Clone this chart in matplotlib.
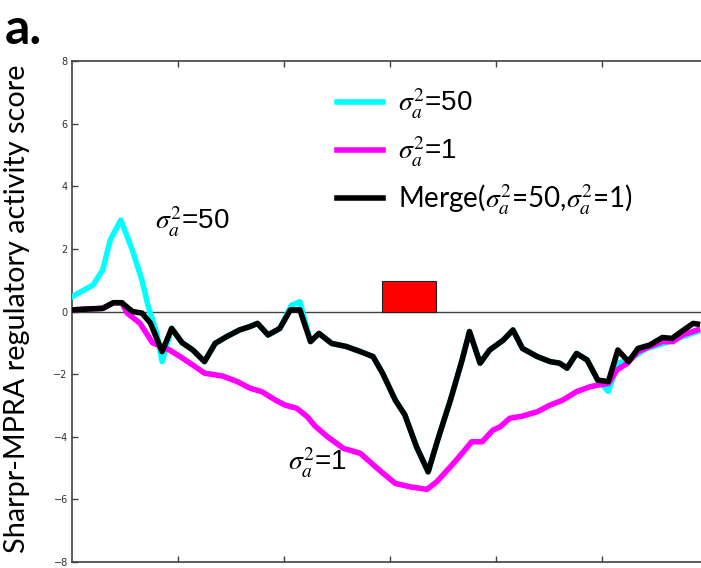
import matplotlib
matplotlib.use('Agg')
import matplotlib.pyplot as plt

# data (x in tick units, 0..6)
x_black = [0.0, 0.15, 0.29, 0.39, 0.47, 0.57, 0.66, 0.74, 0.85, 0.94, 1.04, 1.14, 1.25, 1.35,
           1.46, 1.58, 1.68, 1.75, 1.85, 1.96, 2.06, 2.15, 2.25, 2.33, 2.45, 2.59, 2.72, 2.84,
           2.93, 3.05, 3.14, 3.25, 3.36, 3.45, 3.57, 3.68, 3.75, 3.85, 3.94, 4.07, 4.16, 4.25,
           4.39, 4.51, 4.60, 4.67, 4.76, 4.86, 4.96, 5.06, 5.15, 5.25, 5.34, 5.45, 5.57, 5.66,
           5.75, 5.86, 5.90]
y_black = [0.05, 0.08, 0.10, 0.28, 0.28, 0.0, -0.05, -0.37, -1.28, -0.54, -1.0, -1.23, -1.6, -1.02,
           -0.8, -0.59, -0.48, -0.38, -0.75, -0.54, 0.05, 0.05, -0.96, -0.7, -1.02, -1.12, -1.28, -1.44,
           -1.97, -2.83, -3.3, -4.32, -5.12, -4.1, -2.83, -1.55, -0.64, -1.65, -1.23, -0.91, -0.59, -1.18,
           -1.44, -1.6, -1.65, -1.81, -1.34, -1.55, -2.19, -2.24, -1.23, -1.6, -1.18, -1.07, -0.83, -0.86,
           -0.64, -0.38, -0.40]

x_magenta = [0.0, 0.15, 0.29, 0.39, 0.47, 0.52, 0.64, 0.76, 0.92, 1.02, 1.14, 1.25, 1.42, 1.56,
             1.68, 1.79, 1.92, 2.01, 2.12, 2.22, 2.29, 2.41, 2.56, 2.72, 2.88, 3.05, 3.19, 3.35,
             3.44, 3.57, 3.68, 3.77, 3.87, 3.97, 4.04, 4.13, 4.25, 4.39, 4.51, 4.63, 4.76, 4.89,
             4.96, 5.06, 5.14, 5.24, 5.34, 5.45, 5.57, 5.67, 5.76, 5.90]
y_magenta = [0.05, 0.08, 0.10, 0.28, 0.28, -0.05, -0.37, -1.0, -1.23, -1.44, -1.71, -1.97, -2.06, -2.24,
             -2.45, -2.56, -2.83, -2.99, -3.09, -3.36, -3.65, -4.0, -4.37, -4.53, -5.01, -5.49, -5.6, -5.68,
             -5.44, -4.96, -4.53, -4.16, -4.16, -3.79, -3.68, -3.41, -3.34, -3.2, -2.99, -2.83, -2.56, -2.4,
             -2.35, -2.3, -1.87, -1.65, -1.28, -1.12, -0.96, -0.96, -0.75, -0.59]

x_cyan = [0.0, 0.2, 0.29, 0.36, 0.46, 0.57, 0.66, 0.72, 0.80, 0.85, 0.94, 1.04, 1.14, 1.25, 1.35,
          1.46, 1.58, 1.68, 1.75, 1.85, 1.96, 2.07, 2.15, 2.25, 2.33, 2.45, 2.59, 2.72, 2.84,
          2.93, 3.05, 3.14, 3.25, 3.36, 3.45, 3.57, 3.68, 3.75, 3.85, 3.94, 4.07, 4.16, 4.25,
          4.39, 4.51, 4.60, 4.67, 4.76, 4.86, 4.96, 5.06, 5.15, 5.25, 5.42, 5.64, 5.76, 5.90]
y_cyan = [0.47, 0.85, 1.33, 2.28, 2.92, 1.96, 1.0, 0.15, -0.69, -1.6, -0.54, -1.0, -1.23, -1.6, -1.02,
          -0.8, -0.59, -0.48, -0.38, -0.75, -0.54, 0.2, 0.31, -0.96, -0.7, -1.02, -1.12, -1.28, -1.44,
          -1.97, -2.83, -3.3, -4.32, -5.12, -4.1, -2.83, -1.55, -0.64, -1.65, -1.23, -0.91, -0.59, -1.18,
          -1.44, -1.6, -1.65, -1.81, -1.34, -1.55, -2.19, -2.55, -1.65, -1.55, -1.18, -0.96, -0.8, -0.64]

# red element box
elem_start = 2.92
elem_end = 3.43
elem_height = 0.97

plt.rcParams['mathtext.fontset'] = 'stix'

fig = plt.figure(figsize=(7.01, 5.68), dpi=100)
ax = fig.add_axes([72 / 701, 6 / 568, 636 / 701, 501 / 568])

ax.axhline(0, color='#404040', linewidth=1.0, zorder=1)
ax.bar((elem_start + elem_end) / 2, elem_height, width=elem_end - elem_start,
       color='#ff0000', edgecolor='#202020', linewidth=0.8, zorder=2)

ax.plot(x_cyan, y_cyan, color='#00ffff', linewidth=4.0, zorder=3, solid_joinstyle='round',
        label=r'$\sigma_a^2$=50')
ax.plot(x_magenta, y_magenta, color='#ff00ff', linewidth=4.0, zorder=4, solid_joinstyle='round',
        label=r'$\sigma_a^2$=1')
ax.plot(x_black, y_black, color='black', linewidth=4.0, zorder=5, solid_joinstyle='round',
        label=r'Merge($\sigma_a^2$=50,$\sigma_a^2$=1)')

ax.set_xlim(0, 6)
ax.set_ylim(-8, 8)
ax.set_xticks([1, 2, 3, 4, 5])
ax.set_xticklabels([])
ax.set_yticks(range(-8, 9, 2))
ax.tick_params(direction='in', length=4, width=1, color='#404040', labelsize=7,
               labelcolor='#303030', top=True, right=True, pad=3)
for s in ax.spines.values():
    s.set_color('#404040')
    s.set_linewidth(1.2)

# labels
ax.text(0.78, 2.85, r'$\sigma_a^2$=50', fontsize=20, family='Liberation Sans', va='center')
ax.text(2.04, -4.85, r'$\sigma_a^2$=1', fontsize=20, family='Liberation Sans', va='center')

leg = ax.legend(loc='upper left', bbox_to_anchor=(0.417, 0.949), frameon=False,
                prop={'family': 'Liberation Sans', 'size': 20},
                handlelength=1.65, handletextpad=0.55, labelspacing=0.5,
                borderaxespad=0, borderpad=0)
leg.get_texts()[2].set_family('Lato')

fig.text(5 / 701, 1 - 7 / 568, 'a.', fontsize=36, fontweight='bold', family='Lato', va='top')
fig.text(4 / 701, (568 - 309) / 568, 'Sharpr-MPRA regulatory activity score', rotation=90,
         fontsize=20.8, family='Lato', va='center', ha='left')

fig.savefig('out.png', dpi=100)
